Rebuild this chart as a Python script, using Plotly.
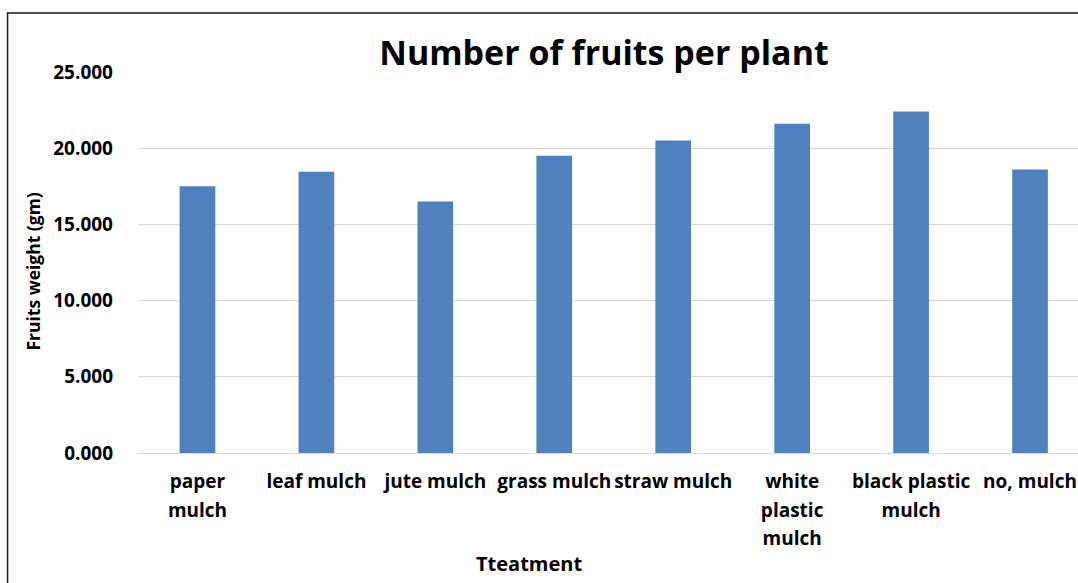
import plotly.graph_objects as go

categories = ["paper<br>mulch", "leaf mulch", "jute mulch", "grass mulch", "straw mulch",
              "white<br>plastic<br>mulch", "black plastic<br>mulch", "no, mulch"]
values = [17.5, 18.45, 16.5, 19.5, 20.5, 21.6, 22.4, 18.6]
y_ticks = [0, 5, 10, 15, 20, 25]
y_tick_labels = ["0.000", "5.000", "10.000", "15.000", "20.000", "25.000"]

FONT = "Open Sans"
W, H = 1078, 583
L, T, B = 137.5, 72, 130
pw = W - L
ph = H - T - B


def tick_text(label):
    parts = label.split("<br>")
    return "<br>".join('<span style="font-size:19px">' + p + "</span>" for p in parts)


fig = go.Figure(go.Bar(x=list(range(len(categories))), y=values,
                       marker=dict(color="#4f81bd", line=dict(width=0))))

fig.update_layout(
    width=W, height=H,
    margin=dict(l=L, r=0, t=T, b=B, pad=0),
    paper_bgcolor="white", plot_bgcolor="white",
    bargap=0.70,
    showlegend=False,
    font=dict(family=FONT, color="#000000"),
    title=dict(text="<b>Number of fruits per plant</b>", x=604 / W, xanchor="center",
               y=1 - 53 / H, yanchor="middle", yref="container",
               font=dict(family=FONT, size=34, color="#000000")),
)
fig.update_xaxes(
    tickmode="array", tickvals=list(range(len(categories))),
    ticktext=["<b>" + tick_text(c) + "</b>" for c in categories],
    range=[-0.5, -0.5 + pw / 119.0],
    showgrid=False, showline=False, zeroline=False, ticks="",
    tickfont=dict(family=FONT, size=22, color="#000000"),
    ticklabelstandoff=12,
)
fig.update_yaxes(
    range=[0, 25], tickmode="array", tickvals=y_ticks,
    ticktext=["<b>" + t + "</b>" for t in y_tick_labels],
    showgrid=True, gridcolor="#d9d9d9", gridwidth=1,
    zeroline=True, zerolinecolor="#d9d9d9", zerolinewidth=1,
    showline=False, ticks="",
    tickfont=dict(family=FONT, size=19, color="#000000"),
    ticklabelstandoff=24,
)

# axis titles
fig.add_annotation(text="<b>Fruits weight (gm)</b>", xref="paper", yref="paper",
                   x=(32 - L) / pw, y=(H - B - 272) / ph, textangle=-90,
                   showarrow=False, xanchor="center", yanchor="middle",
                   font=dict(family=FONT, size=17.5, color="#000000"))
fig.add_annotation(text="<b>Tteatment</b>", xref="paper", yref="paper",
                   x=(529 - L) / pw, y=(H - B - 563) / ph,
                   showarrow=False, xanchor="center", yanchor="middle",
                   font=dict(family=FONT, size=20, color="#000000"))

# outer frame
fig.add_shape(type="rect", xref="paper", yref="paper",
              x0=(7 - L) / pw, x1=1.2, y0=-1.0, y1=(H - B - 13) / ph,
              line=dict(color="#1a1a1a", width=1.5), fillcolor="rgba(0,0,0,0)", layer="above")

fig.write_html("out.html")
